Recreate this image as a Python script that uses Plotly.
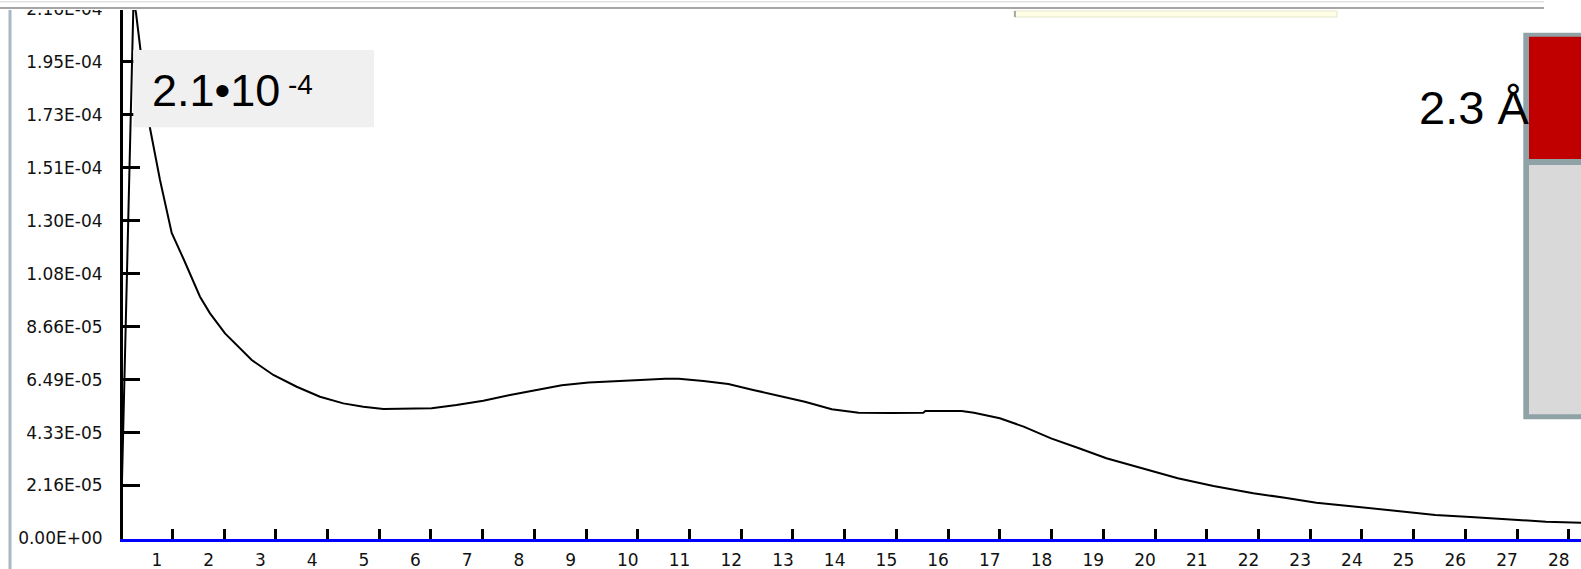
import plotly.graph_objects as go

# ---------------- data ----------------
x_values = [0.0, 0.25, 0.298, 0.375, 0.568, 0.762, 0.988, 1.226, 1.342, 1.535, 1.729,
            2.019, 2.535, 2.953, 3.405, 3.855, 4.306, 4.693, 5.08, 5.595, 6.015, 6.494,
            7.013, 7.531, 8.049, 8.53, 9.049, 9.53, 10.05, 10.53, 10.79, 11.27, 11.75,
            12.23, 12.71, 13.23, 13.75, 14.27, 14.9, 15.52, 15.56, 16.26, 16.5, 17.0,
            17.46, 17.99, 18.53, 19.06, 19.75, 20.44, 21.13, 21.9, 22.51, 23.12, 23.89,
            24.65, 25.42, 26.18, 26.95, 27.56, 28.24]
y_values = [0.0, 2.2e-4, 2.147e-4, 2.016e-4, 1.677e-4, 1.465e-4, 1.248e-4, 1.138e-4,
            1.0835e-4, 0.988e-4, 0.920e-4, 0.838e-4, 0.729e-4, 0.668e-4, 0.620e-4,
            0.579e-4, 0.552e-4, 0.5385e-4, 0.529e-4, 0.529e-4, 0.532e-4, 0.5455e-4,
            0.563e-4, 0.586e-4, 0.607e-4, 0.626e-4, 0.637e-4, 0.641e-4, 0.648e-4,
            0.653e-4, 0.653e-4, 0.643e-4, 0.631e-4, 0.607e-4, 0.583e-4, 0.559e-4,
            0.528e-4, 0.514e-4, 0.513e-4, 0.514e-4, 0.521e-4, 0.521e-4, 0.514e-4,
            0.491e-4, 0.457e-4, 0.409e-4, 0.3685e-4, 0.328e-4, 0.287e-4, 0.246e-4,
            0.2145e-4, 0.1847e-4, 0.1667e-4, 0.1463e-4, 0.130e-4, 0.1124e-4, 0.096e-4,
            0.0866e-4, 0.0756e-4, 0.0686e-4, 0.0646e-4]

x_tick_vals = [1, 2, 3, 4, 5, 6, 7, 8, 9, 10, 11, 12, 13, 14, 15, 16, 17, 18, 19, 20,
               21, 22, 23, 24, 25, 26, 27, 28]
x_tick_labels = ["1", "2", "3", "4", "5", "6", "7", "8", "9", "10", "11", "12", "13",
                 "14", "15", "16", "17", "18", "19", "20", "21", "22", "23", "24", "25",
                 "26", "27", "28"]
y_tick_vals = [0.0, 2.164e-5, 4.328e-5, 6.492e-5, 8.656e-5, 1.082e-4, 1.2984e-4,
               1.5148e-4, 1.7312e-4, 1.9476e-4, 2.164e-4]
y_tick_labels = ["0.00E+00", "2.16E-05", "4.33E-05", "6.49E-05", "8.66E-05", "1.08E-04",
                 "1.30E-04", "1.51E-04", "1.73E-04", "1.95E-04", "2.16E-04"]

value_label = "2.1•10"
value_exponent = "-4"
distance_label = "2.3 Å"

# ---------------- layout helpers ----------------
W, H = 1581, 569
ML, MB = 123, 30
PLOT_W = W - ML
PLOT_H = H - MB


def px_x(px):
    return (px - ML) / PLOT_W


def px_y(py):
    return (PLOT_H - py) / PLOT_H


# left-align the x tick labels (as in the source application)
x_tick_text = [t if len(t) > 1 else t + "\u00a0\u00a0" for t in x_tick_labels]

fig = go.Figure()
fig.add_trace(go.Scatter(x=x_values, y=y_values, mode="lines",
                         line=dict(color="black", width=2), showlegend=False,
                         hoverinfo="skip"))

Y_PER_PX = 4.0857e-7
X_PER_PX = 1 / 51.72

tick_font = dict(family="DejaVu Sans", size=17, color="#111111")

fig.update_layout(
    template="none",
    width=W, height=H,
    margin=dict(l=ML, r=0, t=0, b=MB, pad=0, autoexpand=False),
    paper_bgcolor="white", plot_bgcolor="white",
    showlegend=False,
    xaxis=dict(range=[(ML - 120.6) * X_PER_PX, (W - 120.6) * X_PER_PX],
               automargin=False,
               tickmode="array", tickvals=x_tick_vals, ticktext=x_tick_text,
               ticks="inside", ticklen=10, tickwidth=2.5, tickcolor="black",
               showline=True, linecolor="#0000ff", linewidth=3,
               showgrid=False, zeroline=False,
               ticklabelshift=-10, ticklabelstandoff=4,
               ticklabeloverflow="allow",
               tickfont=tick_font),
    yaxis=dict(range=[-0.5 * Y_PER_PX, (PLOT_H - 0.5) * Y_PER_PX],
               automargin=False,
               tickmode="array", tickvals=y_tick_vals, ticktext=y_tick_labels,
               ticks="inside", ticklen=17, tickwidth=2.5, tickcolor="black",
               showline=True, linecolor="black", linewidth=3,
               showgrid=False, zeroline=False,
               ticklabelstandoff=14,
               ticklabeloverflow="allow",
               tickfont=tick_font),
)

shapes = []


def rect(x0, y0, x1, y1, fill, line_color=None, line_width=0):
    shapes.append(dict(type="rect", xref="paper", yref="paper",
                       x0=px_x(x0), x1=px_x(x1), y0=px_y(y0), y1=px_y(y1),
                       fillcolor=fill, layer="above",
                       line=dict(color=line_color or fill, width=line_width)))


def line(x0, y0, x1, y1, color, width):
    shapes.append(dict(type="line", xref="paper", yref="paper",
                       x0=px_x(x0), x1=px_x(x1), y0=px_y(y0), y1=px_y(y1),
                       layer="above", line=dict(color=color, width=width)))


# annotation background
rect(133.3, 50, 374, 127.3, "#f0f0f0")
# window chrome at top
rect(-5, -5, W + 5, 10, "white")
line(0, 1.7, 1544, 1.7, "#e2e2e2", 1.5)
line(0, 8, 1544, 8, "#a6a6a6", 2)
# yellow strip
rect(1014, 11, 1337, 17, "#fefee6", "#e6e6cc", 1)
line(1015, 11, 1015, 17, "#909090", 1.5)
# left window border
line(10, 10, 10, H + 5, "#a9b7c7", 3)
# right box (legend fragment)
rect(1523.3, 32.7, W + 10, 419.3, "#8fa3a6")
rect(1529, 36.7, W + 10, 159, "#c00000")
rect(1529, 165, W + 10, 414.3, "#d9d9d9")

fig.update_layout(shapes=shapes)

annotations = [
    dict(text=value_label, x=px_x(151.5), y=px_y(106 - 0.3465 * 45),
         xanchor="left", yanchor="middle",
         font=dict(family="Liberation Sans", size=45, color="black")),
    dict(text=value_exponent, x=px_x(288), y=px_y(94 - 0.3465 * 28),
         xanchor="left", yanchor="middle",
         font=dict(family="Liberation Sans", size=28, color="black")),
    dict(text=distance_label, x=px_x(1529), y=px_y(123.3 - 0.3465 * 47),
         xanchor="right", yanchor="middle",
         font=dict(family="Liberation Sans", size=47, color="black")),
]
for a in annotations:
    a.update(xref="paper", yref="paper", showarrow=False, borderpad=0, borderwidth=0)
fig.update_layout(annotations=annotations)

fig.write_html("out.html")
